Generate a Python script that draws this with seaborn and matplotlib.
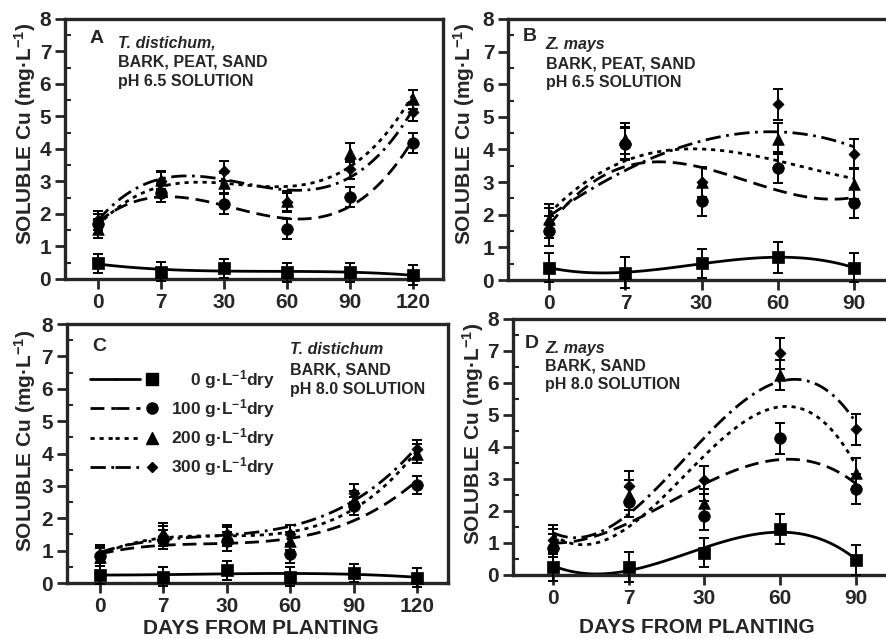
import matplotlib as mpl
from matplotlib import pyplot as plt
from matplotlib.lines import Line2D
from matplotlib.legend_handler import HandlerTuple
from matplotlib.ticker import MultipleLocator
import seaborn as sns
import numpy as np

# days from planting (categorical, evenly spaced on the axis)
days_120 = ["0", "7", "30", "60", "90", "120"]
days_90 = ["0", "7", "30", "60", "90"]

# panel A: T. distichum, bark/peat/sand, pH 6.5
a_0 = [0.48, 0.23, 0.33, 0.20, 0.20, 0.12]
a_100 = [1.69, 2.64, 2.31, 1.54, 2.53, 4.19]
a_200 = [1.55, 3.05, 2.96, 2.40, 3.89, 5.53]
a_300 = [1.80, 3.00, 3.33, 2.36, 3.37, 5.15]
a_err = [0.30, 0.28, 0.30, 0.30, 0.30, 0.30]

# panel B: Z. mays, bark/peat/sand, pH 6.5
b_0 = [0.38, 0.23, 0.51, 0.69, 0.38]
b_100 = [1.50, 4.17, 2.41, 3.44, 2.36]
b_200 = [1.87, 4.33, 3.00, 4.33, 2.94]
b_300 = [1.75, 4.20, 3.00, 5.38, 3.87]
b_err = [0.45, 0.48, 0.45, 0.48, 0.45]

# panel C: T. distichum, bark/sand, pH 8.0
c_0 = [0.26, 0.20, 0.39, 0.20, 0.31, 0.17]
c_100 = [0.82, 1.34, 1.29, 0.90, 2.37, 3.03]
c_200 = [0.80, 1.55, 1.44, 1.30, 2.57, 4.00]
c_300 = [0.90, 1.45, 1.50, 1.50, 2.78, 4.13]
c_err = [0.28, 0.30, 0.30, 0.28, 0.28, 0.28]

# panel D: Z. mays, bark/sand, pH 8.0
d_0 = [0.26, 0.24, 0.70, 1.44, 0.47]
d_100 = [0.83, 2.29, 1.85, 4.27, 2.69]
d_200 = [1.00, 2.50, 2.24, 6.25, 3.18]
d_300 = [1.10, 2.79, 2.97, 6.93, 4.55]
d_err = [0.45, 0.47, 0.45, 0.48, 0.48]

rates = ["0", "100", "200", "300"]
legend_labels = ["    0 g·L$^{-1}$dry", "100 g·L$^{-1}$dry",
                 "200 g·L$^{-1}$dry", "300 g·L$^{-1}$dry"]

markers = {"0": "s", "100": "o", "200": "^", "300": "D"}
msize = {"0": 70, "100": 70, "200": 70, "300": 32}
lstyles = {"0": "-", "100": (0, (10, 5)), "200": (0, (3, 3.5)),
           "300": (0, (11, 4, 2, 4))}

sns.set_style("ticks")
plt.rcParams["font.family"] = ["Liberation Sans", "DejaVu Sans"]
plt.rcParams["font.weight"] = "bold"
plt.rcParams["axes.labelweight"] = "bold"
plt.rcParams["mathtext.fontset"] = "custom"
plt.rcParams["mathtext.rm"] = "Liberation Sans:bold"
plt.rcParams["mathtext.it"] = "Liberation Sans:italic:bold"
plt.rcParams["mathtext.bf"] = "Liberation Sans:bold"
plt.rcParams["mathtext.default"] = "rm"
plt.rcParams["lines.scale_dashes"] = False

fig = plt.figure(figsize=(8.86, 6.39), dpi=100)

panels = [
    dict(rect=[0.0734, 0.5634, 0.4266, 0.4069], days=days_120,
         data=[a_0, a_100, a_200, a_300], err=a_err, xlim=(-0.52, 5.48),
         letter="A", letter_xy=(0.066, 0.958),
         lines=["T. distichum,", "BARK, PEAT, SAND", "pH 6.5 SOLUTION"],
         text_xy=(0.14, 0.935), step=0.073, ylab=(-0.072, 0.56), xlab=None,
         right=True),
    dict(rect=[0.5734, 0.5618, 0.4266, 0.4085], days=days_90,
         data=[b_0, b_100, b_200, b_300], err=b_err, xlim=(-0.54, 4.42),
         letter="B", letter_xy=(0.04, 0.965),
         lines=["Z. mays", "BARK, PEAT, SAND", "pH 6.5 SOLUTION"],
         text_xy=(0.10, 0.93), step=0.073, ylab=(-0.082, 0.56), xlab=None,
         right=False),
    dict(rect=[0.0756, 0.0876, 0.43, 0.4053], days=days_120,
         data=[c_0, c_100, c_200, c_300], err=c_err, xlim=(-0.52, 5.49),
         letter="C", letter_xy=(0.066, 0.946),
         lines=["T. distichum", "BARK, SAND", "pH 8.0 SOLUTION"],
         text_xy=(0.585, 0.93), step=0.077, ylab=(-0.076, 0.55),
         xlab=(0.51, -0.138), right=True),
    dict(rect=[0.579, 0.1002, 0.421, 0.4006], days=days_90,
         data=[d_0, d_100, d_200, d_300], err=d_err, xlim=(-0.53, 4.40),
         letter="D", letter_xy=(0.032, 0.9375),
         lines=["Z. mays", "BARK, SAND", "pH 8.0 SOLUTION"],
         text_xy=(0.086, 0.915), step=0.071, ylab=(-0.072, 0.55),
         xlab=(0.493, -0.168), right=False),
]

for p in panels:
    ax = fig.add_axes(p["rect"])
    idx = np.arange(len(p["days"]))
    for rate, vals in zip(rates, p["data"]):
        ax.errorbar(idx, vals, yerr=p["err"], fmt="none", ecolor="k",
                    elinewidth=1.4, capsize=3.5, capthick=1.4, clip_on=False,
                    zorder=3)
        sns.regplot(x=idx, y=vals, order=3, scatter=False, ci=None,
                    truncate=True, color="k", ax=ax,
                    line_kws=dict(ls=lstyles[rate], lw=2.0, zorder=2))
        sns.scatterplot(x=idx, y=vals, marker=markers[rate], s=msize[rate],
                        color="k", edgecolor="k", linewidth=0.5, ax=ax,
                        zorder=4, clip_on=False)

    ax.set_xlim(*p["xlim"])
    ax.set_ylim(0, 8)
    ax.set_xticks(idx)
    ax.set_xticklabels(p["days"])
    ax.set_yticks(range(0, 9))
    ax.yaxis.set_minor_locator(MultipleLocator(0.5))
    ax.tick_params(axis="both", which="major", direction="out", length=7,
                   width=2.0, labelsize=15, pad=3)
    ax.tick_params(axis="y", which="minor", direction="in", length=4,
                   width=1.5)
    for s in ax.spines.values():
        s.set_linewidth(2.4)
    ax.spines["right"].set_visible(p["right"])

    ax.set_ylabel("SOLUBLE Cu (mg·L$^{-1}$)", fontsize=15)
    ax.yaxis.set_label_coords(*p["ylab"])
    if p["xlab"] is not None:
        ax.set_xlabel("DAYS FROM PLANTING", fontsize=15)
        ax.xaxis.set_label_coords(*p["xlab"])
    else:
        ax.set_xlabel("")

    ax.text(p["letter_xy"][0], p["letter_xy"][1], p["letter"],
            transform=ax.transAxes, fontsize=14, fontweight="bold",
            ha="left", va="top")
    tx, ty = p["text_xy"]
    for i, line in enumerate(p["lines"]):
        ax.text(tx, ty - i * p["step"], line, transform=ax.transAxes,
                fontsize=11.5, fontweight="bold",
                fontstyle="italic" if i == 0 else "normal",
                ha="left", va="top")

    if p["letter"] == "C":
        handles = []
        for rate in rates:
            ln = Line2D([], [], color="k", ls=lstyles[rate], lw=2.0)
            mk = Line2D([], [], color="k", ls="none", marker=markers[rate],
                        markersize=8 if rate != "300" else 5.5)
            handles.append((ln, ln, mk))
        ax.legend(handles, legend_labels, loc="upper left",
                  bbox_to_anchor=(0.06, 0.83), frameon=False, fontsize=12.5,
                  handlelength=4.3, handletextpad=0.4, labelspacing=0.36,
                  borderpad=0, borderaxespad=0,
                  handler_map={tuple: HandlerTuple(ndivide=None, pad=0)})

fig.savefig("out.png", dpi=100)
